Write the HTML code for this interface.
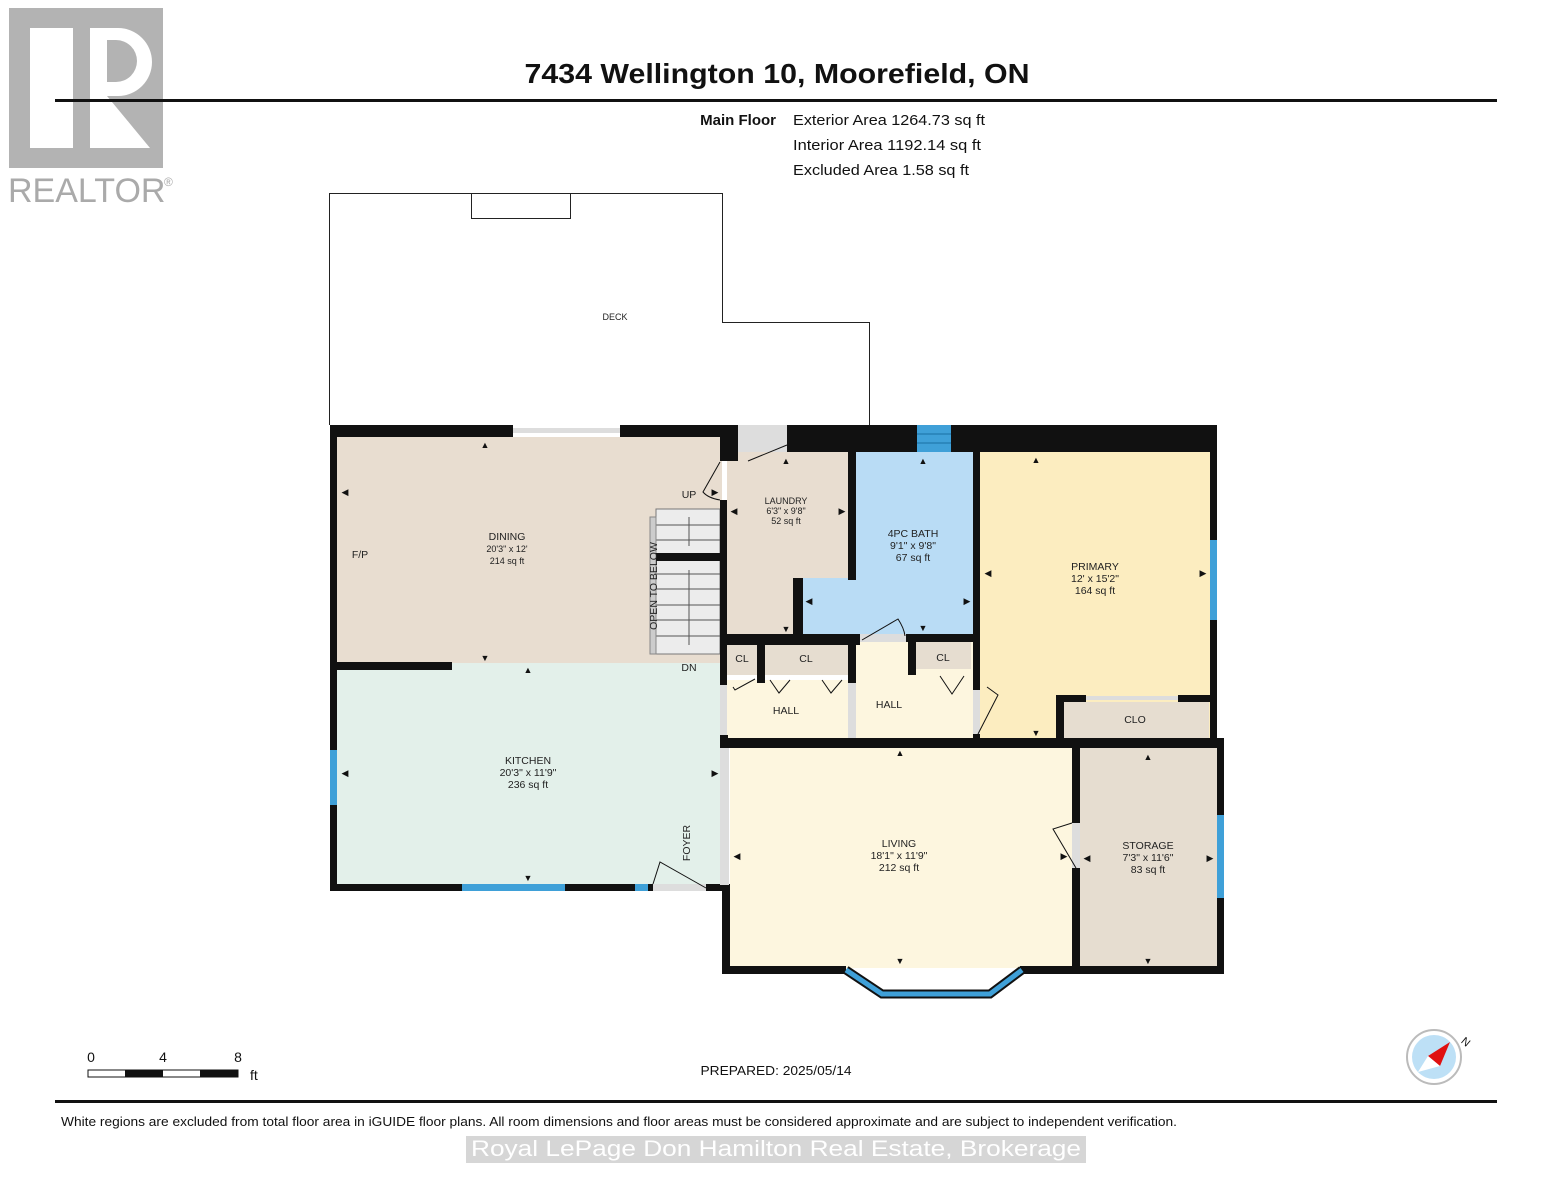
<!DOCTYPE html>
<html><head><meta charset="utf-8"><style>
html,body{margin:0;padding:0;background:#fff;}
svg{display:block;font-family:"Liberation Sans",Arial,sans-serif;}
.t{font-size:10.5px;fill:#222;text-anchor:middle}
.s{font-size:9px;fill:#222;text-anchor:middle}
</style></head><body>
<svg width="1553" height="1200" viewBox="0 0 1553 1200" xmlns="http://www.w3.org/2000/svg">
<rect x="9" y="8" width="154" height="160" fill="#b3b3b3"/>
<rect x="30" y="28" width="43" height="120" fill="#fff"/>
<path d="M90 28 H118 A34 34 0 0 1 118 96 H107 L150 148 H90 Z" fill="#fff"/>
<path d="M107 40 H116 A20 20 0 0 1 116 82 H107 Z" fill="#b3b3b3"/>
<text x="8" y="202" font-size="34" fill="#aaa">REALTOR</text>
<text x="164" y="186" font-size="12" fill="#aaa">®</text>
<text x="777" y="83" font-size="28" font-weight="bold" text-anchor="middle" fill="#111" textLength="505" lengthAdjust="spacingAndGlyphs">7434 Wellington 10, Moorefield, ON</text>
<rect x="55" y="99" width="1442" height="3" fill="#111"/>
<text x="776" y="125" font-size="15" font-weight="bold" text-anchor="end" fill="#111">Main Floor</text>
<text x="793" y="125" font-size="15" fill="#111" textLength="192" lengthAdjust="spacingAndGlyphs">Exterior Area 1264.73 sq ft</text>
<text x="793" y="150" font-size="15" fill="#111" textLength="188" lengthAdjust="spacingAndGlyphs">Interior Area 1192.14 sq ft</text>
<text x="793" y="175" font-size="15" fill="#111" textLength="176" lengthAdjust="spacingAndGlyphs">Excluded Area 1.58 sq ft</text>
<path d="M329.5 425 V193.5 H722.5 V322.5 H869.5 V425" fill="none" stroke="#222" stroke-width="1"/>
<rect x="471.5" y="193.5" width="99" height="25" fill="none" stroke="#222" stroke-width="1"/>
<text x="615" y="320" class="s" font-size="11">DECK</text>
<rect x="337" y="437" width="385" height="226" fill="#e8ddd0"/>
<rect x="337" y="663" width="385" height="222" fill="#e3f0ea"/>
<rect x="727" y="452" width="122" height="186" fill="#e8ddd0"/>
<path d="M853 452 H973 V634 H800 V578 H853 Z" fill="#b9dcf5"/>
<rect x="980" y="452" width="231" height="287" fill="#fcedc0"/>
<rect x="1062" y="702" width="147" height="37" fill="#e6ddd0"/>
<rect x="730" y="748" width="342" height="220" fill="#fdf6df"/>
<rect x="1080" y="748" width="138" height="220" fill="#e6ddd0"/>
<rect x="727" y="680" width="122" height="59" fill="#fdf6df"/>
<rect x="856" y="642" width="117" height="97" fill="#fdf6df"/>
<rect x="727" y="645" width="30" height="30" fill="#e6ddd0"/>
<rect x="765" y="645" width="83" height="30" fill="#e6ddd0"/>
<rect x="916" y="642" width="55" height="27" fill="#e6ddd0"/>
<rect x="656" y="509" width="64" height="145" fill="#ececec" stroke="#777" stroke-width="1"/>
<g stroke="#555" stroke-width="1">
<line x1="656" y1="525" x2="720" y2="525"/><line x1="656" y1="540" x2="720" y2="540"/>
<line x1="656" y1="574" x2="720" y2="574"/><line x1="656" y1="589" x2="720" y2="589"/>
<line x1="656" y1="605" x2="720" y2="605"/><line x1="656" y1="620" x2="720" y2="620"/><line x1="656" y1="636" x2="720" y2="636"/>
<line x1="689" y1="517" x2="689" y2="546"/><line x1="689" y1="570" x2="689" y2="645"/>
</g>
<rect x="650" y="517" width="6" height="137" fill="#ccc" stroke="#888"/>
<rect x="656" y="553" width="64" height="8" fill="#111"/>
<text transform="translate(657,586) rotate(-90)" class="t" font-size="11">OPEN TO BELOW</text>
<g fill="#111">
<rect x="330" y="425" width="183" height="12"/>
<rect x="620" y="425" width="100" height="12"/>
<rect x="720" y="425" width="18" height="36"/>
<rect x="787" y="425" width="130" height="27"/>
<rect x="951" y="425" width="266" height="27"/>
<rect x="330" y="425" width="7" height="465"/>
<rect x="330" y="884" width="132" height="7"/>
<rect x="565" y="884" width="70" height="7"/>
<rect x="648" y="884" width="5" height="7"/>
<rect x="706" y="884" width="24" height="7"/>
<rect x="337" y="662" width="115" height="8"/>
<rect x="720" y="500" width="7" height="185"/>
<rect x="720" y="735" width="8" height="12"/>
<rect x="722" y="885" width="8" height="88"/>
<rect x="722" y="966" width="124" height="8"/>
<rect x="1020" y="966" width="204" height="8"/>
<rect x="1217" y="738" width="7" height="77"/>
<rect x="1217" y="898" width="7" height="76"/>
<rect x="1210" y="425" width="7" height="115"/>
<rect x="1210" y="620" width="7" height="120"/>
<rect x="720" y="738" width="504" height="10"/>
<rect x="1072" y="748" width="8" height="75"/>
<rect x="1072" y="868" width="8" height="100"/>
<rect x="848" y="452" width="8" height="128"/>
<rect x="793" y="578" width="10" height="60"/>
<rect x="727" y="634" width="133" height="11"/>
<rect x="906" y="634" width="74" height="8"/>
<rect x="973" y="452" width="7" height="238"/>
<rect x="973" y="734" width="7" height="6"/>
<rect x="757" y="645" width="8" height="38"/>
<rect x="848" y="645" width="8" height="38"/>
<rect x="908" y="642" width="8" height="33"/>
<rect x="1056" y="695" width="8" height="45"/>
<rect x="1056" y="695" width="30" height="7"/>
<rect x="1178" y="695" width="34" height="7"/>
</g>
<rect x="513" y="428" width="107" height="5" fill="#ddd"/>
<rect x="917" y="425" width="34" height="27" fill="#3fa0d8"/>
<line x1="917" y1="434" x2="951" y2="434" stroke="#1a6fa3"/><line x1="917" y1="443" x2="951" y2="443" stroke="#1a6fa3"/>
<rect x="330" y="750" width="7" height="55" fill="#3fa0d8"/>
<rect x="462" y="884" width="103" height="7" fill="#3fa0d8"/>
<rect x="635" y="884" width="13" height="7" fill="#3fa0d8"/>
<rect x="1210" y="540" width="7" height="80" fill="#3fa0d8"/>
<rect x="1217" y="815" width="7" height="83" fill="#3fa0d8"/>
<rect x="1086" y="696" width="92" height="4" fill="#ddd"/>
<path d="M846 970 L882 994 L990 994 L1022 970" fill="none" stroke="#111" stroke-width="9"/>
<path d="M846 970 L882 994 L990 994 L1022 970" fill="none" stroke="#3fa0d8" stroke-width="5"/>
<rect x="738" y="425" width="49" height="27" fill="#ddd"/>
<path d="M748 461 L787 445" stroke="#111" fill="none"/>
<path d="M720 462 L703 492 Q708 498 720 500" stroke="#111" fill="none"/>
<rect x="653" y="884" width="53" height="7" fill="#ddd"/>
<path d="M653 884 L660 862 L706 888" stroke="#111" fill="none"/>
<rect x="720" y="685" width="7" height="50" fill="#ddd"/><rect x="720" y="748" width="9" height="137" fill="#ddd"/>
<rect x="848" y="683" width="8" height="55" fill="#ddd"/>
<rect x="973" y="690" width="7" height="44" fill="#ddd"/>
<path d="M978 734 L998 695 L987 687" stroke="#111" fill="none"/>
<rect x="860" y="634" width="46" height="8" fill="#ddd"/>
<path d="M862 640 L898 619 Q904 628 905 636" stroke="#111" fill="none"/>
<rect x="1072" y="823" width="8" height="45" fill="#ddd"/>
<path d="M1076 868 L1053 829 L1072 823" stroke="#111" fill="none"/>
<g stroke="#111" fill="none">
<path d="M733 687 L735 690 L755 679"/><path d="M770 680 L779 693 L790 680"/><path d="M822 680 L831 693 L842 680"/><path d="M940 676 L952 694 L964 676"/>
</g>
<text x="507" y="540" class="t">DINING</text><text x="507" y="552" class="s">20'3" x 12'</text><text x="507" y="564" class="s">214 sq ft</text>
<text x="360" y="558" class="t">F/P</text>
<text x="689" y="498" class="t">UP</text><text x="689" y="671" class="t">DN</text>
<text x="786" y="504" class="s">LAUNDRY</text><text x="786" y="514" class="s" font-size="8">6'3" x 9'8"</text><text x="786" y="524" class="s" font-size="8">52 sq ft</text>
<text x="913" y="537" class="t">4PC BATH</text><text x="913" y="549" class="t">9'1" x 9'8"</text><text x="913" y="561" class="t">67 sq ft</text>
<text x="1095" y="570" class="t">PRIMARY</text><text x="1095" y="582" class="t">12' x 15'2"</text><text x="1095" y="594" class="t">164 sq ft</text>
<text x="742" y="662" class="t">CL</text><text x="806" y="662" class="t">CL</text><text x="943" y="661" class="t">CL</text>
<text x="786" y="714" class="t">HALL</text><text x="889" y="708" class="t">HALL</text><text x="1135" y="723" class="t">CLO</text>
<text x="528" y="764" class="t">KITCHEN</text><text x="528" y="776" class="t">20'3" x 11'9"</text><text x="528" y="788" class="t">236 sq ft</text>
<text transform="translate(690,843) rotate(-90)" class="t" font-size="11">FOYER</text>
<text x="899" y="847" class="t">LIVING</text><text x="899" y="859" class="t">18'1" x 11'9"</text><text x="899" y="871" class="t">212 sq ft</text>
<text x="1148" y="849" class="t">STORAGE</text><text x="1148" y="861" class="t">7'3" x 11'6"</text><text x="1148" y="873" class="t">83 sq ft</text>
<g fill="#111" font-size="9" text-anchor="middle">
<text x="485" y="448">▲</text><text x="485" y="661">▼</text><text x="528" y="673">▲</text><text x="528" y="881">▼</text>
<text x="345" y="495">◀</text><text x="715" y="495">▶</text><text x="345" y="776">◀</text><text x="715" y="776">▶</text>
<text x="786" y="464">▲</text><text x="786" y="632">▼</text><text x="734" y="514">◀</text><text x="842" y="514">▶</text>
<text x="923" y="464">▲</text><text x="923" y="631">▼</text><text x="809" y="604">◀</text><text x="967" y="604">▶</text>
<text x="1036" y="463">▲</text><text x="1036" y="736">▼</text><text x="988" y="576">◀</text><text x="1203" y="576">▶</text>
<text x="900" y="756">▲</text><text x="900" y="964">▼</text><text x="737" y="859">◀</text><text x="1064" y="859">▶</text>
<text x="1148" y="760">▲</text><text x="1148" y="964">▼</text><text x="1087" y="861">◀</text><text x="1210" y="861">▶</text>
</g>
<text x="91" y="1062" font-size="14" text-anchor="middle" fill="#111">0</text>
<text x="163" y="1062" font-size="14" text-anchor="middle" fill="#111">4</text>
<text x="238" y="1062" font-size="14" text-anchor="middle" fill="#111">8</text>
<rect x="88" y="1070" width="150" height="7" fill="#fff" stroke="#111"/>
<rect x="125" y="1070" width="38" height="7" fill="#111"/><rect x="200" y="1070" width="38" height="7" fill="#111"/>
<text x="250" y="1080" font-size="14" fill="#111">ft</text>
<text x="776" y="1075" font-size="13" text-anchor="middle" fill="#111" textLength="151" lengthAdjust="spacingAndGlyphs">PREPARED: 2025/05/14</text>
<circle cx="1434" cy="1057" r="27" fill="#fff" stroke="#bbb" stroke-width="2"/>
<circle cx="1434" cy="1057" r="22" fill="#bde0f6"/>
<path d="M1450 1042 L1428 1056 L1440 1066 Z" fill="#e01010"/>
<path d="M1418 1072 L1428 1056 L1440 1066 Z" fill="#fff"/>
<text x="1463" y="1043" font-size="11" fill="#111" transform="rotate(40 1463 1039)">N</text>
<rect x="55" y="1100" width="1442" height="3" fill="#111"/>
<text x="61" y="1126" font-size="13" fill="#111" textLength="1116" lengthAdjust="spacingAndGlyphs">White regions are excluded from total floor area in iGUIDE floor plans. All room dimensions and floor areas must be considered approximate and are subject to independent verification.</text>
<rect x="466" y="1136" width="620" height="27" fill="#d6d6d6"/>
<text x="776" y="1156" font-size="22" text-anchor="middle" fill="#fff" textLength="610" lengthAdjust="spacingAndGlyphs">Royal LePage Don Hamilton Real Estate, Brokerage</text>
</svg>
</body></html>
